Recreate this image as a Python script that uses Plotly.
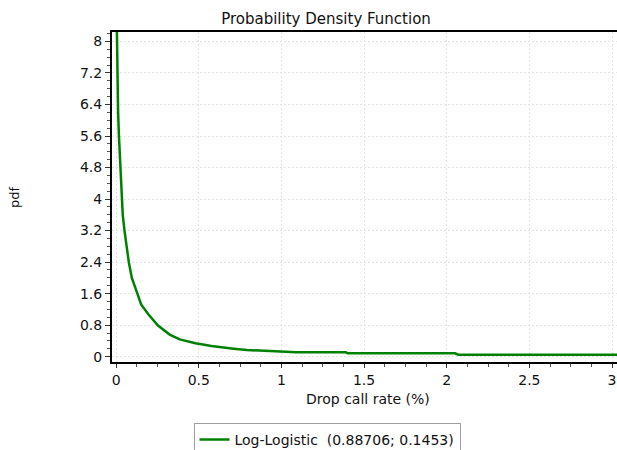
import plotly.graph_objects as go

# Data
drop_call_rate = [0.003, 0.008, 0.012, 0.017, 0.022, 0.026, 0.034, 0.040, 0.051, 0.065,
                  0.077, 0.095, 0.128, 0.152, 0.196, 0.253, 0.324, 0.385, 0.48, 0.577,
                  0.698, 0.79, 0.93, 1.01, 1.09, 1.39, 1.40, 2.05, 2.07, 3.05]
pdf_values = [8.7, 6.9, 6.2, 5.6, 5.1, 4.75, 4.0, 3.6, 3.19, 2.75,
              2.39, 2.0, 1.59, 1.32, 1.07, 0.79, 0.56, 0.44, 0.34, 0.27,
              0.21, 0.17, 0.145, 0.127, 0.11, 0.11, 0.086, 0.086, 0.05, 0.05]
series_name = "Log-Logistic  (0.88706; 0.1453)"
x_ticks = [0, 0.5, 1, 1.5, 2, 2.5, 3]
x_tick_labels = ["0", "0.5", "1", "1.5", "2", "2.5", "3"]
y_ticks = [0, 0.8, 1.6, 2.4, 3.2, 4, 4.8, 5.6, 6.4, 7.2, 8]
y_tick_labels = ["0", "0.8", "1.6", "2.4", "3.2", "4", "4.8", "5.6", "6.4", "7.2", "8"]

FONT = "DejaVu Sans"

fig = go.Figure()
fig.add_trace(go.Scatter(
    x=drop_call_rate, y=pdf_values, mode="lines", name=series_name,
    line=dict(color="#008000", width=2.5),
    cliponaxis=True,
))

W, H = 617, 450
L, T = 112, 32
plot_right, plot_bottom = 617, 362
R = W - plot_right
B = H - plot_bottom
pw, ph = plot_right - L, plot_bottom - T

def px_x(p):
    return (p - L) / pw

def px_y(p):
    return (plot_bottom - p) / ph

GRID = "#e4e4e4"

fig.update_layout(
    width=W, height=H,
    margin=dict(l=L, r=R, t=T, b=B, pad=0, autoexpand=False),
    paper_bgcolor="white", plot_bgcolor="white",
    font=dict(family=FONT, size=14, color="#111111"),
    title=dict(text="Probability Density Function", x=326 / W, xanchor="center",
               y=1 - 19 / H, yanchor="middle", font=dict(family=FONT, size=15, color="#111111")),
    showlegend=True,
    legend=dict(x=px_x(327), xanchor="center", y=px_y(423), yanchor="top",
                orientation="h", bordercolor="#a0a0a0", borderwidth=1, bgcolor="white",
                font=dict(family=FONT, size=14, color="#111111")),
    xaxis=dict(
        range=[-0.025, 3.03], tickmode="array", tickvals=x_ticks, ticktext=x_tick_labels,
        automargin=False,
        showline=True, linecolor="black", linewidth=2, mirror=True,
        ticks="outside", ticklen=4, tickcolor="#333333", tickwidth=1,
        showgrid=True, gridcolor=GRID, griddash="2px,2px", gridwidth=1,
        zeroline=False,
        minor=dict(dtick=0.125, tick0=0, ticks="outside", ticklen=3, tickcolor="#555555", showgrid=False),
        tickfont=dict(family=FONT, size=14, color="#111111"),
    ),
    yaxis=dict(
        range=[-0.135, 8.24], tickmode="array", tickvals=y_ticks, ticktext=y_tick_labels,
        automargin=False,
        showline=True, linecolor="black", linewidth=2, mirror=False,
        ticks="outside", ticklen=5, tickcolor="#333333", tickwidth=1,
        showgrid=True, gridcolor=GRID, griddash="2px,2px", gridwidth=1,
        zeroline=False,
        minor=dict(dtick=0.2, tick0=0, ticks="outside", ticklen=3, tickcolor="#555555", showgrid=False),
        tickfont=dict(family=FONT, size=14, color="#111111"),
    ),
    annotations=[
        dict(text="Drop call rate (%)", xref="paper", yref="paper", x=px_x(368), y=px_y(399),
             xanchor="center", yanchor="middle", showarrow=False,
             font=dict(family=FONT, size=14, color="#111111")),
        dict(text="pdf", xref="paper", yref="paper", x=px_x(14), y=px_y(197),
             xanchor="center", yanchor="middle", showarrow=False, textangle=-90,
             font=dict(family=FONT, size=13, color="#111111")),
    ],
)

fig.write_html(
    "out.html",
    config={"displayModeBar": False},
    post_script="document.body.style.margin='0';document.body.style.overflow='hidden';",
)
